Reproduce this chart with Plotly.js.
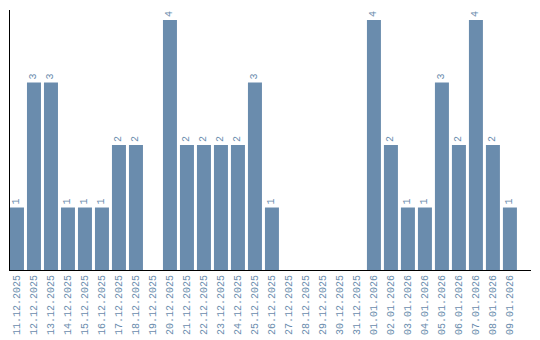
<!DOCTYPE html>
<html>
<head>
<meta charset="utf-8">
<script src="https://cdn.plot.ly/plotly-3.0.1.min.js"></script>
<style>html,body{margin:0;padding:0;background:#fff;}#chart{width:540px;height:340px;}</style>
</head>
<body>
<div id="chart"></div>
<script>
const dates = ["11.12.2025","12.12.2025","13.12.2025","14.12.2025","15.12.2025","16.12.2025","17.12.2025","18.12.2025","19.12.2025","20.12.2025","21.12.2025","22.12.2025","23.12.2025","24.12.2025","25.12.2025","26.12.2025","27.12.2025","28.12.2025","29.12.2025","30.12.2025","31.12.2025","01.01.2026","02.01.2026","03.01.2026","04.01.2026","05.01.2026","06.01.2026","07.01.2026","08.01.2026","09.01.2026"];
const counts = [1,3,3,1,1,1,2,2,0,4,2,2,2,2,3,1,0,0,0,0,0,4,2,1,1,3,2,4,2,1];
const labels = counts.map(v => v > 0 ? String(v) : "");

const barColor = "#6a8cad";
const trace = {
  type: "bar",
  x: dates,
  y: counts,
  text: labels,
  textposition: "outside",
  textangle: -90,
  cliponaxis: false,
  textfont: {family: "Liberation Mono", size: 10, color: barColor},
  marker: {color: barColor},
  hoverinfo: "none"
};
const layout = {
  width: 540, height: 340,
  margin: {l: 10, r: 9, t: 10, b: 70},
  paper_bgcolor: "#fff", plot_bgcolor: "#fff",
  bargap: 3/17,
  showlegend: false,
  xaxis: {
    type: "category",
    range: [-0.41, 30.24],
    showline: true, linecolor: "#000", linewidth: 1,
    showgrid: false, zeroline: false, ticks: "",
    tickangle: -90,
    tickfont: {family: "Liberation Mono", size: 10, color: barColor}
  },
  yaxis: {
    range: [0, 4.16],
    showline: true, linecolor: "#000", linewidth: 1,
    showgrid: false, zeroline: false, showticklabels: false, ticks: ""
  }
};
Plotly.newPlot("chart", [trace], layout, {displayModeBar: false, staticPlot: true});
</script>
</body>
</html>
